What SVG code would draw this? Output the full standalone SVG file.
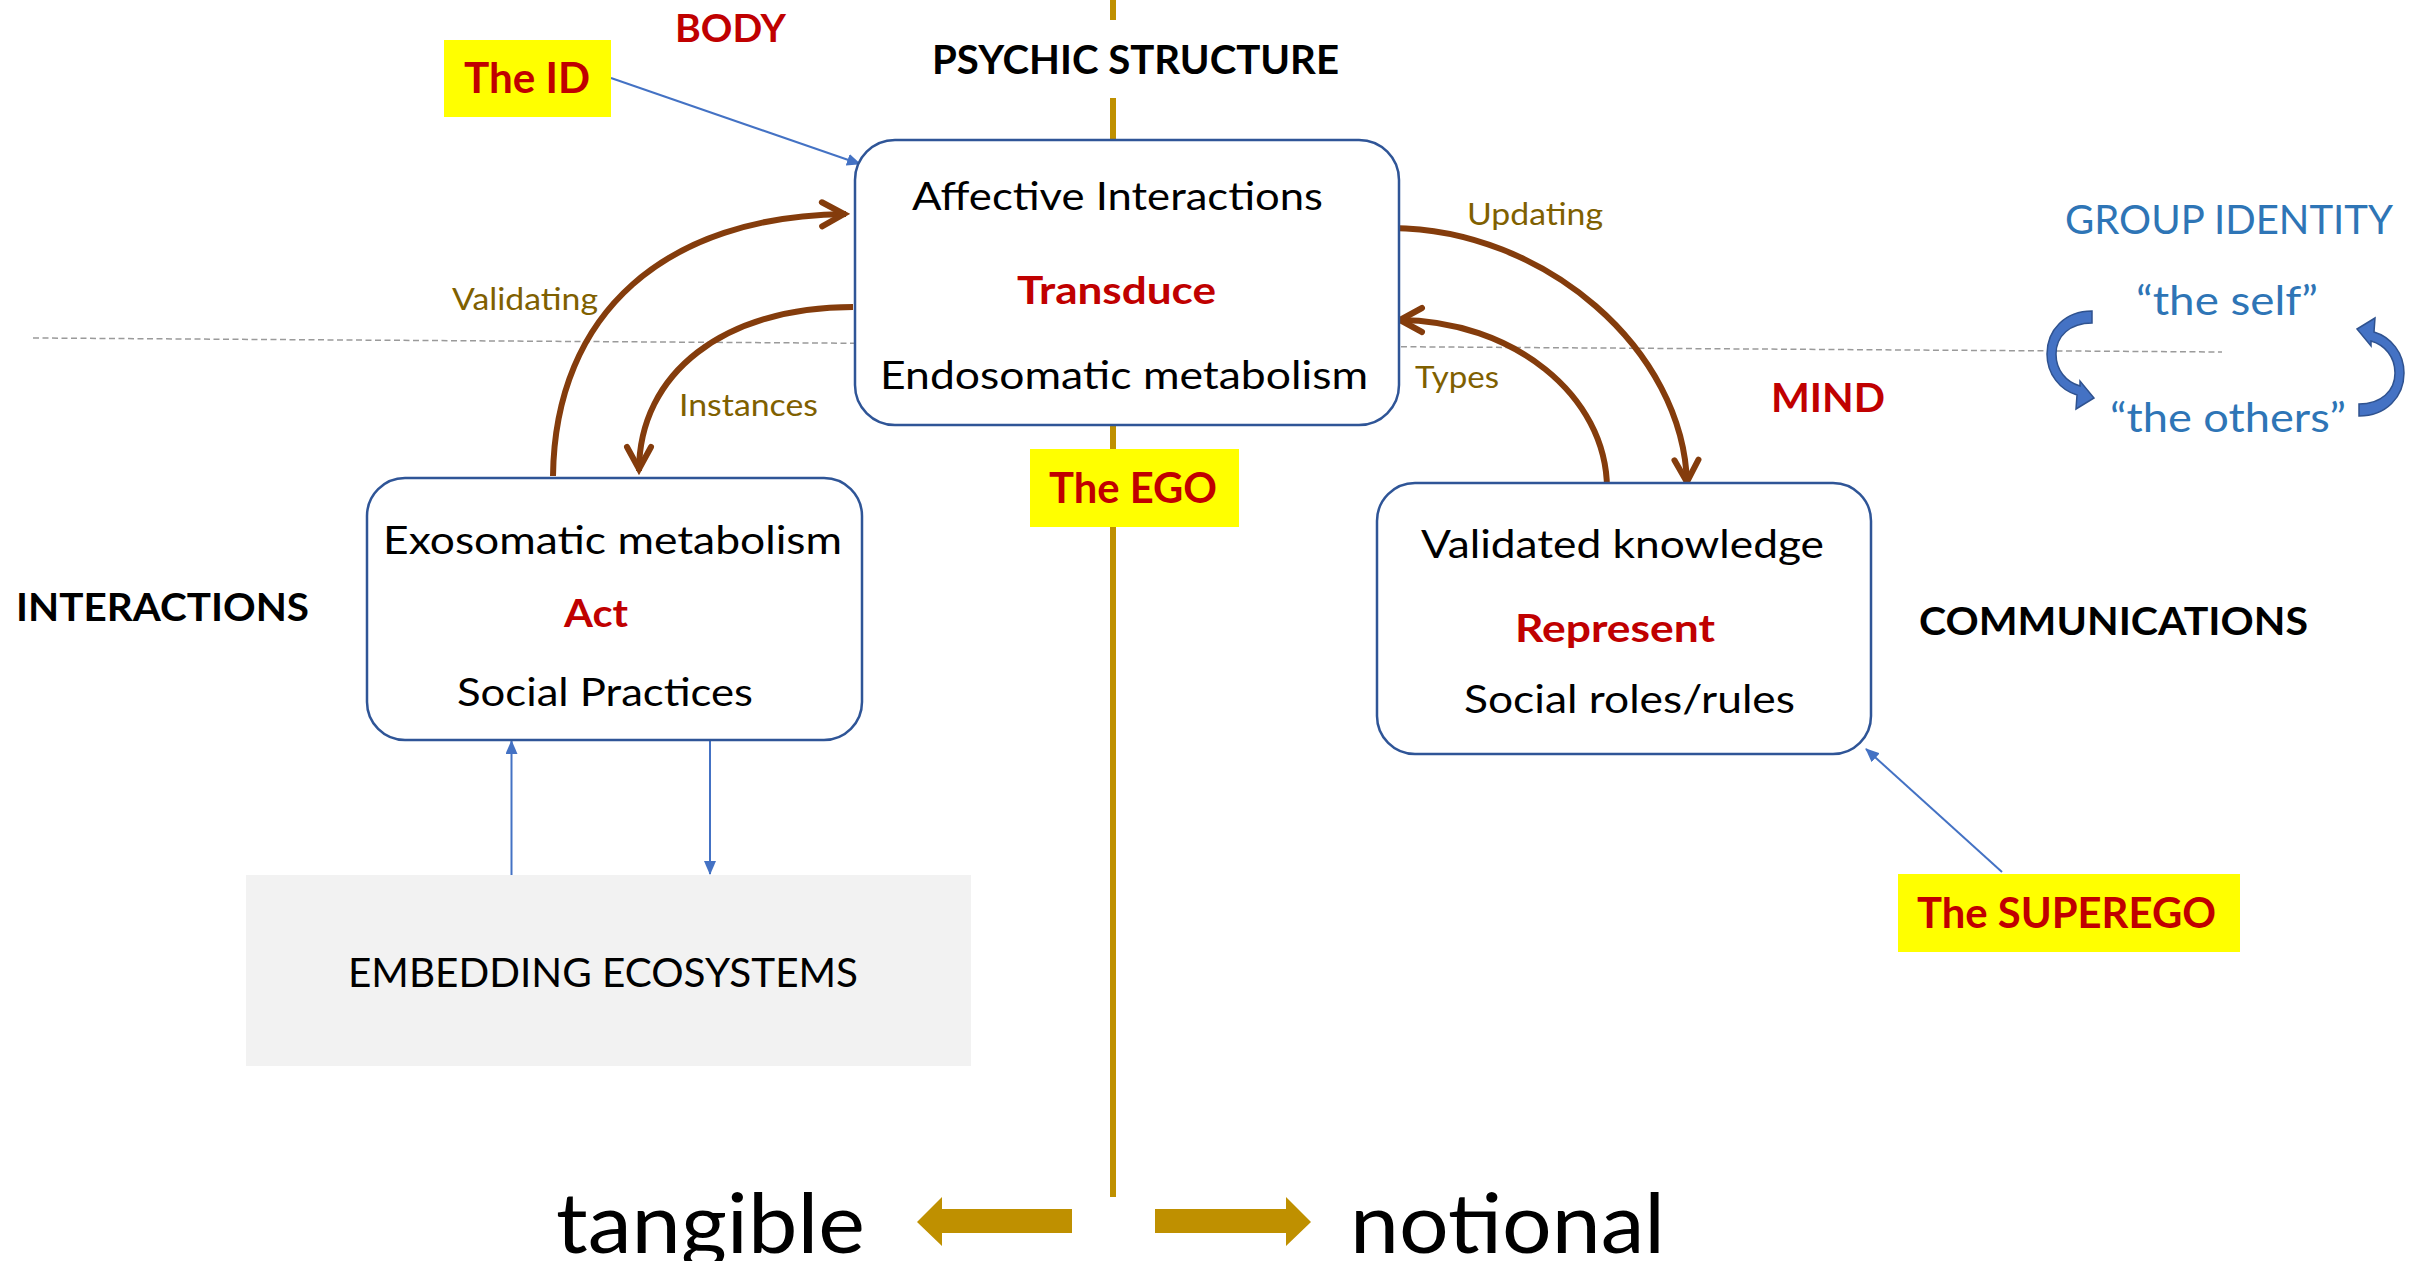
<svg xmlns="http://www.w3.org/2000/svg" xmlns:xlink="http://www.w3.org/1999/xlink" width="2415" height="1261" viewBox="0 0 2415 1261">
<style>
text{font-family:Lato,"Open Sans","Liberation Sans",sans-serif;}
.b{font-weight:bold;}
.red{fill:#C00000;}
.blk{fill:#000000;}
.olive{fill:#7F6000;}
.blue{fill:#2E75B6;}
.box{fill:#FFFFFF;stroke:#2F5597;stroke-width:2.5;}
.hl{fill:#FFFF00;}
.brown{fill:none;stroke:#843C0C;stroke-width:6;}
.thin{fill:none;stroke:#4472C4;stroke-width:2;}
.gold{stroke:#BF9000;stroke-width:6;}
</style>
<defs>
<marker id="chev" markerUnits="userSpaceOnUse" viewBox="-30 -16 36 32" markerWidth="36" markerHeight="32" refX="2" refY="0" orient="auto">
<path d="M-22,-12 L0,0 L-22,12" fill="none" stroke="#843C0C" stroke-width="6" stroke-linecap="round"/>
</marker>
<marker id="tri" markerUnits="userSpaceOnUse" viewBox="0 0 14 12" markerWidth="14" markerHeight="12" refX="13" refY="6" orient="auto">
<path d="M0,0 L14,6 L0,12 z" fill="#4472C4"/>
</marker>
<path id="garrow" d="M2092,311 C2065,311 2047,330 2047,354 C2047,374 2060,390 2077,395 L2076,409 L2094,398 L2080,381 L2080,386 C2066,382 2056,370 2056,354 C2056,336 2070,323 2092,323 Z" fill="#4472C4" stroke="#2F528F" stroke-width="1.5"/>
</defs>

<g id="background">
<line x1="33" y1="338" x2="2222" y2="352" stroke="#9A9A9A" stroke-width="1.5" stroke-dasharray="6,3.5"/>
<line class="gold" x1="1113" y1="0" x2="1113" y2="20"/>
<line class="gold" x1="1113" y1="98" x2="1113" y2="1197"/>
<text class="b red" x="675" y="42" font-size="38" textLength="111" lengthAdjust="spacingAndGlyphs">BODY</text>
<text class="b blk" x="932" y="74" font-size="40" textLength="407" lengthAdjust="spacingAndGlyphs">PSYCHIC STRUCTURE</text>
<text class="b red" x="1771" y="412" font-size="40" textLength="114" lengthAdjust="spacingAndGlyphs">MIND</text>
<text class="b blk" x="16" y="621" font-size="39" textLength="293" lengthAdjust="spacingAndGlyphs">INTERACTIONS</text>
<text class="b blk" x="1919" y="635" font-size="39" textLength="389" lengthAdjust="spacingAndGlyphs">COMMUNICATIONS</text>
</g>

<g id="group-identity">
<text class="blue" x="2065" y="234" font-size="40" textLength="328" lengthAdjust="spacingAndGlyphs">GROUP IDENTITY</text>
<text class="blue" x="2136" y="315" font-size="40" textLength="182" lengthAdjust="spacingAndGlyphs">“the self”</text>
<text class="blue" x="2110" y="432" font-size="40" textLength="236" lengthAdjust="spacingAndGlyphs">“the others”</text>
<use xlink:href="#garrow" href="#garrow"/>
<use xlink:href="#garrow" href="#garrow" transform="rotate(180 2225.5 363.5)"/>
</g>

<g id="connectors">
<line class="thin" x1="611" y1="78" x2="860" y2="164" marker-end="url(#tri)"/>
<line class="thin" x1="511.5" y1="875" x2="511.5" y2="741" marker-end="url(#tri)"/>
<line class="thin" x1="710" y1="740" x2="710" y2="874" marker-end="url(#tri)"/>
<line class="thin" x1="2002" y1="872" x2="1866" y2="749" marker-end="url(#tri)"/>
<path class="brown" d="M553,476 C555,313 665,216 846,214" marker-end="url(#chev)"/>
<path class="brown" d="M853,307 C724,307 639,373 639,471" marker-end="url(#chev)"/>
<path class="brown" d="M1392,228 C1545,229 1684,350 1687,484" marker-end="url(#chev)"/>
<path class="brown" d="M1607,489 C1607,395 1512,320 1398,320" marker-end="url(#chev)"/>
<text class="olive" x="452" y="310" font-size="31" textLength="146" lengthAdjust="spacingAndGlyphs">Validating</text>
<text class="olive" x="679" y="416" font-size="31" textLength="139" lengthAdjust="spacingAndGlyphs">Instances</text>
<text class="olive" x="1467" y="225" font-size="31" textLength="136" lengthAdjust="spacingAndGlyphs">Updating</text>
<text class="olive" x="1415" y="388" font-size="31" textLength="84" lengthAdjust="spacingAndGlyphs">Types</text>
</g>

<g id="node-id">
<rect class="hl" x="444" y="40" width="167" height="77"/>
<text class="b red" x="464" y="93" font-size="42" textLength="126" lengthAdjust="spacingAndGlyphs">The ID</text>
</g>

<g id="node-psychic">
<rect class="box" x="855" y="140" width="544" height="285" rx="40" ry="40"/>
<text class="blk" x="912" y="210" font-size="39" textLength="411" lengthAdjust="spacingAndGlyphs">Affective Interactions</text>
<text class="b red" x="1017" y="304" font-size="38" textLength="199" lengthAdjust="spacingAndGlyphs">Transduce</text>
<text class="blk" x="880" y="389" font-size="39" textLength="488" lengthAdjust="spacingAndGlyphs">Endosomatic metabolism</text>
</g>

<g id="node-ego">
<rect class="hl" x="1030" y="449" width="209" height="78"/>
<text class="b red" x="1049" y="503" font-size="42" textLength="168" lengthAdjust="spacingAndGlyphs">The EGO</text>
</g>

<g id="node-act">
<rect class="box" x="367" y="478" width="495" height="262" rx="38" ry="38"/>
<text class="blk" x="383" y="554" font-size="39" textLength="459" lengthAdjust="spacingAndGlyphs">Exosomatic metabolism</text>
<text class="b red" x="564" y="627" font-size="38" textLength="64" lengthAdjust="spacingAndGlyphs">Act</text>
<text class="blk" x="457" y="706" font-size="39" textLength="296" lengthAdjust="spacingAndGlyphs">Social Practices</text>
</g>

<g id="node-represent">
<rect class="box" x="1377" y="483" width="494" height="271" rx="38" ry="38"/>
<text class="blk" x="1421" y="558" font-size="39" textLength="403" lengthAdjust="spacingAndGlyphs">Validated knowledge</text>
<text class="b red" x="1515" y="642" font-size="38" textLength="200" lengthAdjust="spacingAndGlyphs">Represent</text>
<text class="blk" x="1464" y="713" font-size="39" textLength="331" lengthAdjust="spacingAndGlyphs">Social roles/rules</text>
</g>

<g id="node-superego">
<rect class="hl" x="1898" y="874" width="342" height="78"/>
<text class="b red" x="1917" y="928" font-size="42" textLength="299" lengthAdjust="spacingAndGlyphs">The SUPEREGO</text>
</g>

<g id="node-ecosystems">
<rect x="246" y="875" width="725" height="191" fill="#F2F2F2"/>
<text class="blk" x="348" y="987" font-size="40" textLength="510" lengthAdjust="spacingAndGlyphs">EMBEDDING ECOSYSTEMS</text>
</g>

<g id="axis">
<polygon points="917,1222 942,1197 942,1209 1072,1209 1072,1233 942,1233 942,1246" fill="#BF9000"/>
<polygon points="1155,1209 1286,1209 1286,1197 1311,1222 1286,1246 1286,1233 1155,1233" fill="#BF9000"/>
<text class="blk" x="556" y="1253" font-size="84" textLength="309" lengthAdjust="spacingAndGlyphs">tangible</text>
<text class="blk" x="1350" y="1253" font-size="84" textLength="315" lengthAdjust="spacingAndGlyphs">notional</text>
</g>
</svg>
